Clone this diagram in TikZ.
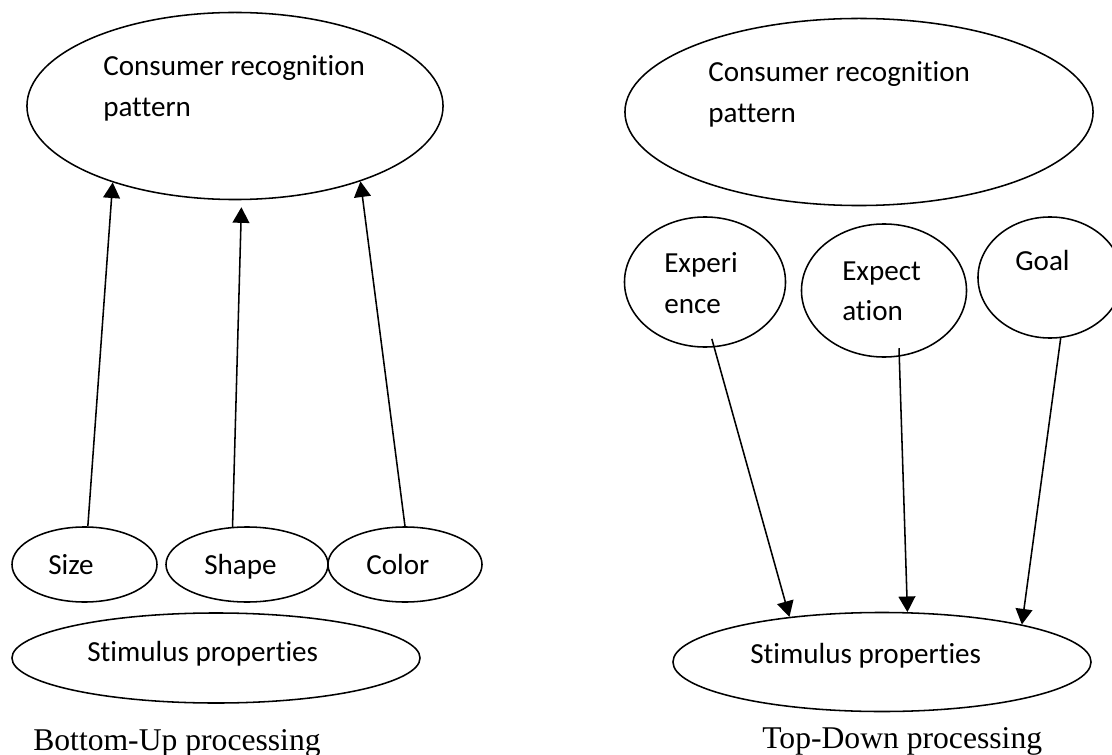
\documentclass[tikz,border=0pt]{standalone}
\usepackage{fontspec}
\setmainfont{Liberation Serif}
\newfontfamily\calibri[Ligatures={NoCommon,NoContextual}]{Carlito}
\usetikzlibrary{arrows.meta,shapes.geometric}

\begin{document}
\begin{tikzpicture}[x=0.025cm,y=-0.025cm,
  oval/.style={draw,ellipse,line width=1.1pt,inner sep=0pt},
  lbl/.style={anchor=base west,inner sep=0pt,font=\calibri\fontsize{20.7}{24}\selectfont},
  captxt/.style={anchor=base west,inner sep=0pt,font=\fontsize{22.5}{27}\selectfont},
  arr/.style={-{Triangle[length=0.39cm,width=0.42cm]},line width=1.1pt}]
  \useasboundingbox (0,0) rectangle (1112,755);
  \clip (0,0) rectangle (1112,755);

  % bottom-up
  \node[oval,minimum width=10.4cm,minimum height=4.675cm] (crpL) at (235,106) {};
  \node[lbl] (crpLa) at (103,76) {Consumer recognition};
  \node[lbl] (crpLb) at (103,117) {pattern};

  \node[oval,minimum width=3.625cm,minimum height=1.875cm] (size) at (84.5,564.5) {};
  \node[oval,minimum width=4.05cm,minimum height=1.875cm] (shape) at (247,564.5) {};
  \node[oval,minimum width=3.85cm,minimum height=1.875cm] (color) at (405,564.5) {};
  \node[lbl] (sizet) at (48,574) {Size};
  \node[lbl] (shapet) at (204,574) {Shape};
  \node[lbl] (colort) at (366,574) {Color};

  \node[oval,minimum width=10.2cm,minimum height=2.25cm] (stimL) at (216,658) {};
  \node[lbl] (stimLt) at (87,661) {Stimulus properties};

  \draw[arr] (size.85) -- (crpL.212);
  \draw[arr,shorten >=0.175cm] (shape.111) -- (crpL.274);
  \draw[arr] (color.north) -- (crpL.329);

  \node[captxt] (bu) at (33,750) {Bottom-Up processing};

  % top-down
  \node[oval,minimum width=11.7cm,minimum height=4.675cm] (crpR) at (859,112) {};
  \node[lbl] (crpRa) at (708,82) {Consumer recognition};
  \node[lbl] (crpRb) at (708,123) {pattern};

  \node[oval,minimum width=4.025cm,minimum height=3.25cm] (exper) at (705,282) {};
  \node[oval,minimum width=4.125cm,minimum height=3.325cm] (expect) at (884,290.5) {};
  \node[oval,minimum width=3.6cm,minimum height=3.025cm] (goal) at (1050,277.5) {};
  \node[lbl] (expera) at (664,272) {Experi};
  \node[lbl] (experb) at (664,313) {ence};
  \node[lbl] (expecta) at (842,280) {Expect};
  \node[lbl] (expectb) at (842,320) {ation};
  \node[lbl] (goalt) at (1015,271) {Goal};

  \node[oval,minimum width=10.45cm,minimum height=2.475cm] (stimR) at (882,662) {};
  \node[lbl] (stimRt) at (750,663) {Stimulus properties};

  \draw[arr,shorten <=-0.22cm] (exper.278) -- (stimR.154);
  \draw[arr,shorten <=-0.21cm] (expect.283) -- (stimR.63);
  \draw[arr] (goal.280) -- (stimR.15);

  \node[captxt] (td) at (762,748) {Top-Down processing};
\end{tikzpicture}
\end{document}
